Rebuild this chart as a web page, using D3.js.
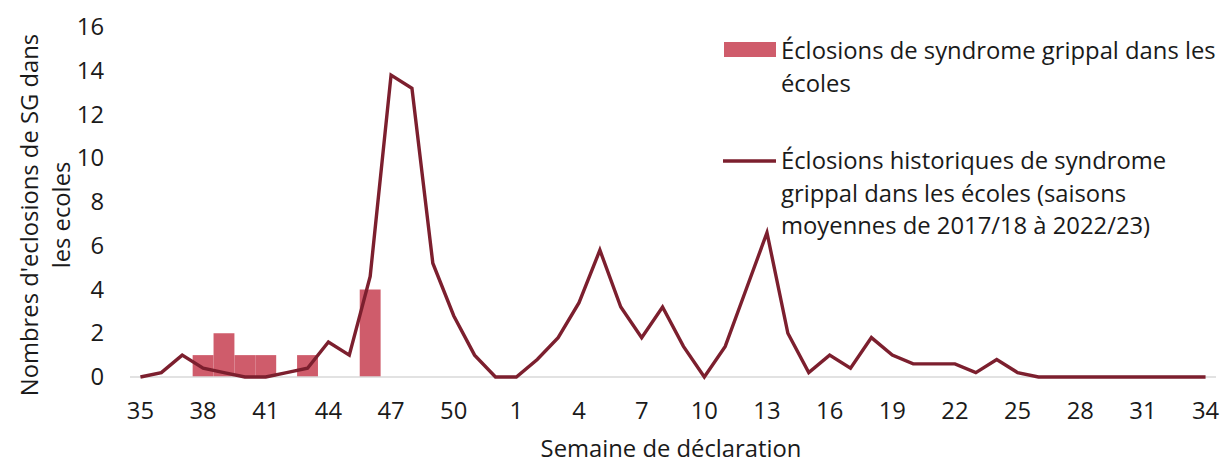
<!DOCTYPE html>
<html>
<head>
<meta charset="utf-8">
<script src="https://cdn.jsdelivr.net/npm/d3@7"></script>
<style>
  body { margin: 0; background: #fff; }
  text { font-family: "Open Sans", "Noto Sans", sans-serif; fill: #1a1a1a; }
</style>
</head>
<body>
<div id="chart"></div>
<script>
// weeks of the season, 35..52 then 1..34
const weeks = d3.range(35, 53).concat(d3.range(1, 35));
const tickWeeks = [35, 38, 41, 44, 47, 50, 1, 4, 7, 10, 13, 16, 19, 22, 25, 28, 31, 34];
const yTicks = [0, 2, 4, 6, 8, 10, 12, 14, 16];

// current season outbreaks (bars)
const barWeeks = [38, 39, 40, 41, 43, 46];
const barValues = [1, 2, 1, 1, 1, 4];

// historical average (line), one value per week in the order of `weeks`
const histValues = [
  0, 0.2, 1, 0.4, 0.2, 0, 0, 0.2, 0.4, 1.6, 1, 4.6, 13.8, 13.2, 5.2, 2.8, 1, 0,
  0, 0.8, 1.8, 3.4, 5.8, 3.2, 1.8, 3.2, 1.4, 0, 1.4, 4, 6.6, 2, 0.2, 1, 0.4, 1.8,
  1, 0.6, 0.6, 0.6, 0.2, 0.8, 0.2, 0, 0, 0, 0, 0, 0, 0, 0, 0
];

const legendLabels = [
  ["Éclosions de syndrome grippal dans les", "écoles"],
  ["Éclosions historiques de syndrome", "grippal dans les écoles (saisons", "moyennes de 2017/18 à 2022/23)"]
];

const width = 1222, height = 464;
const barColor = "#cf5c6b", lineColor = "#7c1f2e";
const fs = "23.8px";

const svg = d3.select("#chart").append("svg")
  .attr("width", width)
  .attr("height", height);

const x = d3.scaleBand()
  .domain(weeks)
  .range([130, 1216])
  .padding(0);

const y = d3.scaleLinear()
  .domain([0, 16])
  .range([377, 27]);

// bars
svg.append("g").selectAll("rect")
  .data(barWeeks.map((w, i) => ({ w, v: barValues[i] })))
  .enter().append("rect")
  .attr("x", d => x(d.w))
  .attr("width", x.bandwidth())
  .attr("y", d => y(d.v))
  .attr("height", d => y(0) - y(d.v))
  .attr("fill", barColor);

// baseline
svg.append("line")
  .attr("x1", 130).attr("x2", 1216)
  .attr("y1", y(0)).attr("y2", y(0))
  .attr("stroke", "#d9d9d9")
  .attr("stroke-width", 1.5);

// historical line
const line = d3.line()
  .x((d, i) => x(weeks[i]) + x.bandwidth() / 2)
  .y(d => y(d));

svg.append("path")
  .datum(histValues)
  .attr("d", line)
  .attr("fill", "none")
  .attr("stroke", lineColor)
  .attr("stroke-width", 3.4)
  .attr("stroke-linejoin", "miter");

// y axis labels
const yAxis = d3.axisLeft(y).tickValues(yTicks).tickSize(0).tickPadding(0);
const gy = svg.append("g").attr("transform", "translate(104,0)").call(yAxis);
gy.select(".domain").remove();
gy.selectAll("text").style("font-size", fs).attr("font-family", null).attr("fill", "#1a1a1a");

// x axis labels
const xAxis = d3.axisBottom(x).tickValues(tickWeeks).tickSize(0).tickPadding(25);
const gx = svg.append("g").attr("transform", `translate(0,${y(0)})`).call(xAxis);
gx.select(".domain").remove();
gx.selectAll("text").style("font-size", fs).attr("font-family", null).attr("fill", "#1a1a1a");

// axis titles
svg.append("text")
  .attr("x", 671).attr("y", 457)
  .attr("text-anchor", "middle")
  .style("font-size", fs)
  .text("Semaine de déclaration");

const yt = svg.append("text")
  .attr("transform", "translate(0,215) rotate(-90)")
  .attr("text-anchor", "middle")
  .style("font-size", fs);
yt.append("tspan").attr("x", 0).attr("y", 38).text("Nombres d'eclosions de SG dans");
yt.append("tspan").attr("x", 0).attr("y", 70).text("les ecoles");

// legend
const lg = svg.append("g");
lg.append("rect")
  .attr("x", 724).attr("y", 42).attr("width", 52).attr("height", 15)
  .attr("fill", barColor);
lg.append("line")
  .attr("x1", 723).attr("x2", 776).attr("y1", 161).attr("y2", 161)
  .attr("stroke", lineColor).attr("stroke-width", 3.4);

const legendY = [59, 169];
legendLabels.forEach((lines, k) => {
  const t = lg.append("text").style("font-size", fs);
  lines.forEach((s, j) => {
    t.append("tspan").attr("x", 781).attr("y", legendY[k] + j * 32.5).text(s);
  });
});
</script>
</body>
</html>
